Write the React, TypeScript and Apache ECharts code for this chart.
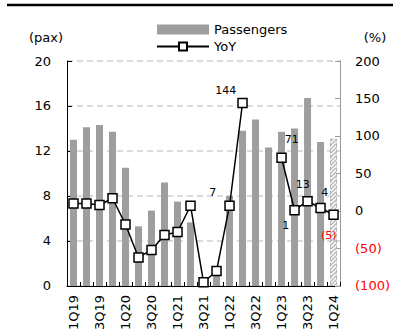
import React, { useEffect, useRef } from "react";
import * as echarts from "echarts";

const categories = [
  "1Q19", "2Q19", "3Q19", "4Q19",
  "1Q20", "2Q20", "3Q20", "4Q20",
  "1Q21", "2Q21", "3Q21", "4Q21",
  "1Q22", "2Q22", "3Q22", "4Q22",
  "1Q23", "2Q23", "3Q23", "4Q23",
  "1Q24",
];
const passengers = [
  13.0, 14.1, 14.3, 13.7,
  10.5, 5.3, 6.7, 9.2,
  7.5, 5.65, 0.3, 1.7,
  8.0, 13.8, 14.8, 12.3,
  13.7, 14.0, 16.7, 12.8,
  13.1,
];
const yoy: (number | null)[] = [
  10, 10, 8, 17,
  -18, -62, -52, -32,
  -28, 7, -95, -80,
  7, 144, null, null,
  71, 1, 13, 4,
  -5,
];
// label offsets for labelled YoY points (index -> [dx, dy])
const yoyLabelOffsets: Record<number, [number, number]> = {
  12: [-16, -12],
  13: [-16, -12],
  16: [11, -17],
  17: [-8, 16],
  18: [-4, -16],
  19: [5, -15],
  20: [-4, 22],
};
const leftTicks = { min: 0, max: 20, interval: 4 };
const rightTicks = { min: -100, max: 200, interval: 50 };
const forecastIndex = 20;

const FONT = "DejaVu Sans";
const SYM = 9;

function fmtPct(v: number) {
  return v < 0 ? `(${Math.abs(v)})` : `${v}`;
}

export default function App() {
  const ref = useRef<HTMLDivElement>(null);
  useEffect(() => {
    document.body.style.margin = "0";
    if (!ref.current) return;
    const chart = echarts.init(ref.current, null, { renderer: "svg" });

    const cv = document.createElement("canvas");
    cv.width = 4;
    cv.height = 4;
    const ctx = cv.getContext("2d")!;
    ctx.fillStyle = "#ffffff";
    ctx.fillRect(0, 0, 4, 4);
    ctx.strokeStyle = "#b4b4b4";
    ctx.lineWidth = 1.3;
    ctx.beginPath();
    ctx.moveTo(-1, 5);
    ctx.lineTo(5, -1);
    ctx.moveTo(-1, 1);
    ctx.lineTo(1, -1);
    ctx.moveTo(3, 5);
    ctx.lineTo(5, 3);
    ctx.stroke();

    const barData = passengers.map((v, i) =>
      i === forecastIndex
        ? {
            value: v,
            itemStyle: {
              color: { image: cv, repeat: "repeat" },
              borderColor: "#b4b4b4",
              borderWidth: 1,
              borderType: "dashed",
            },
          }
        : v
    );

    const lineData = yoy.map((v, i) => {
      const off = yoyLabelOffsets[i];
      if (v === null) return null;
      if (!off) return { value: v, label: { show: false } };
      return {
        value: v,
        label: {
          show: true,
          position: [SYM / 2 + off[0], SYM / 2 + off[1]],
          align: "center",
          verticalAlign: "middle",
          formatter: fmtPct(v),
          color: v < 0 ? "#ff0000" : "#000000",
          textBorderWidth: 0,
          fontSize: 11,
          fontFamily: FONT,
        },
      };
    });

    chart.setOption({
      animation: false,
      textStyle: { fontFamily: FONT },
      grid: { left: 67, right: 50, top: 61, bottom: 46, containLabel: false },
      legend: {
        orient: "vertical",
        left: 151,
        top: 18,
        itemWidth: 52,
        itemHeight: 10,
        itemGap: 4,
        textStyle: { fontSize: 13, color: "#000", fontFamily: FONT },
        data: [
          { name: "Passengers", icon: "rect" },
          { name: "YoY" },
        ],
      },
      graphic: [
        {
          type: "line",
          shape: { x1: 7, y1: 5, x2: 393, y2: 5 },
          style: { stroke: "#000", lineWidth: 2.5 },
        },
        {
          type: "text",
          x: 46,
          y: 37,
          style: {
            text: "(pax)",
            fontSize: 13,
            fontFamily: FONT,
            fill: "#000",
            align: "center",
            verticalAlign: "middle",
          },
        },
        {
          type: "text",
          x: 375,
          y: 37,
          style: {
            text: "(%)",
            fontSize: 13,
            fontFamily: FONT,
            fill: "#000",
            align: "center",
            verticalAlign: "middle",
          },
        },
      ],
      xAxis: {
        type: "category",
        data: categories,
        boundaryGap: true,
        axisLine: { show: true, lineStyle: { color: "#000", width: 1 } },
        axisTick: { show: true, inside: true, length: 4, interval: 0, lineStyle: { color: "#000" } },
        axisLabel: {
          interval: 1,
          rotate: 90,
          fontSize: 13,
          color: "#000",
          margin: 9,
          fontFamily: FONT,
        },
        splitLine: { show: false },
      },
      yAxis: [
        {
          type: "value",
          min: leftTicks.min,
          max: leftTicks.max,
          interval: leftTicks.interval,
          position: "left",
          axisLine: { show: true, lineStyle: { color: "#000", width: 1 } },
          axisTick: { show: true, inside: true, length: 5, lineStyle: { color: "#000" } },
          axisLabel: { fontSize: 13, color: "#000", margin: 16, fontFamily: FONT },
          splitLine: {
            show: true,
            lineStyle: { color: "#d0d0d0", type: [6, 4], width: 1.5 },
          },
        },
        {
          type: "value",
          min: rightTicks.min,
          max: rightTicks.max,
          interval: rightTicks.interval,
          position: "right",
          axisLine: { show: true, lineStyle: { color: "#9a9a9a", width: 1 } },
          axisTick: { show: true, inside: true, length: 5, lineStyle: { color: "#9a9a9a" } },
          axisLabel: {
            fontSize: 13,
            margin: 15,
            fontFamily: FONT,
            color: "#000",
            formatter: (v: number) => (v < 0 ? `{neg|(${Math.abs(v)})}` : `${v}`),
            rich: { neg: { color: "#ff0000", fontSize: 13, fontFamily: FONT } },
          },
          splitLine: { show: false },
        },
      ],
      series: [
        {
          name: "Passengers",
          type: "bar",
          yAxisIndex: 0,
          barWidth: 7,
          itemStyle: { color: "#9e9e9e" },
          data: barData,
          z: 2,
        },
        {
          name: "YoY",
          type: "line",
          yAxisIndex: 1,
          symbol: "rect",
          symbolSize: SYM,
          showSymbol: true,
          showAllSymbol: true,
          connectNulls: false,
          lineStyle: { color: "#000", width: 1.5 },
          itemStyle: { color: "#fff", borderColor: "#000", borderWidth: 1.5 },
          labelLayout: { hideOverlap: false },
          data: lineData,
          z: 5,
        },
      ],
    });
    return () => chart.dispose();
  }, []);
  return <div ref={ref} style={{ width: 393, height: 333 }} />;
}
